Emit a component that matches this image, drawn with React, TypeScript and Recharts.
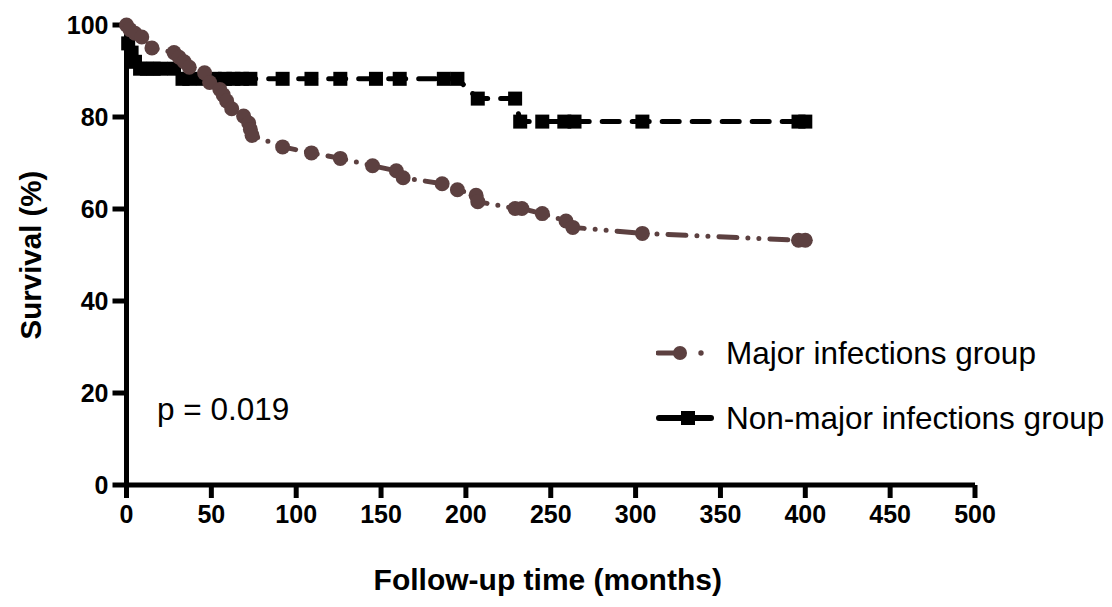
import { LineChart, Line, XAxis, YAxis } from "recharts";

// follow-up time (months) and survival (%)
const majorTime = [
  0, 2, 5, 9, 15, 28, 31, 34, 37, 46, 49, 55, 57, 59, 62, 69, 72, 73, 74,
  92, 109, 126, 145, 159, 163, 186, 195, 206, 207, 229, 233, 245, 259, 263,
  304, 396, 400,
];
const majorSurvival = [
  100, 99, 98.2, 97.4, 95, 94, 93, 92, 90.8, 89.6, 87.5, 86, 84.8, 83.5,
  81.8, 80.2, 78.7, 77.3, 76, 73.5, 72.2, 71, 69.4, 68.3, 66.8, 65.5, 64.2,
  63, 61.6, 60.1, 60.1, 59, 57.4, 56, 54.7, 53.2, 53.2,
];

const nonMajorTime = [
  0, 1, 3, 5, 8, 12, 16, 20, 28, 33, 37, 45, 52, 58, 63, 68, 73, 92, 109,
  126, 147, 161, 187, 195, 207, 229, 232, 245, 258, 264, 304, 396, 400,
];
const nonMajorSurvival = [
  100, 96, 94, 92, 90.5, 90.5, 90.5, 90.5, 90.5, 88.3, 88.3, 88.3, 88.3,
  88.3, 88.3, 88.3, 88.3, 88.3, 88.3, 88.3, 88.3, 88.3, 88.3, 88.3, 84, 84,
  79, 79, 79, 79, 79, 79, 79,
];

const xTicks = [0, 50, 100, 150, 200, 250, 300, 350, 400, 450, 500];
const yTicks = [0, 20, 40, 60, 80, 100];

const majorData = majorTime.map((t, i) => ({ t, s: majorSurvival[i] }));
const nonMajorData = nonMajorTime.map((t, i) => ({ t, s: nonMajorSurvival[i] }));

const BROWN = "#5c4040";
const FONT = '"Liberation Sans", Arial, Helvetica, sans-serif';

const SquareDot = (props: any) => {
  const { cx, cy, index } = props;
  if (cx == null || cy == null || index === 0) return <g key={`sq-${index}`} />;
  return (
    <rect key={`sq-${index}`} x={cx - 7} y={cy - 7} width={14} height={14} fill="#000" />
  );
};

const tickStyle = { fill: "#000", fontSize: 25, fontWeight: "bold", fontFamily: FONT };
const textStyle = { position: "absolute" as const, fontSize: 31.5, lineHeight: "30px", whiteSpace: "nowrap" as const };

export default function App() {
  return (
    <div style={{ position: "relative", width: 1104, height: 599, fontFamily: FONT }}>
      <LineChart
        width={1104}
        height={599}
        margin={{ top: 17, right: 137, bottom: 62, left: 38.5 }}
      >
        <XAxis
          dataKey="t"
          type="number"
          domain={[0, 500]}
          ticks={xTicks}
          interval={0}
          axisLine={{ stroke: "#000", strokeWidth: 5 }}
          tickLine={{ stroke: "#000", strokeWidth: 5 }}
          tickSize={13}
          tickMargin={7}
          tick={tickStyle}
          height={60}
          label={{
            content: (p: any) => (
              <text
                x={p.viewBox.x + p.viewBox.width / 2 - 3}
                y={582}
                textAnchor="middle"
                fontSize={30}
                fontWeight="bold"
                fontFamily={FONT}
                fill="#000"
              >
                Follow-up time (months)
              </text>
            ),
          }}
        />
        <YAxis
          type="number"
          domain={[0, 100]}
          ticks={yTicks}
          interval={0}
          axisLine={{ stroke: "#000", strokeWidth: 5 }}
          tickLine={{ stroke: "#000", strokeWidth: 5 }}
          tickSize={14}
          tickMargin={4}
          tick={tickStyle}
          width={80}
          label={{
            content: (p: any) => {
              const cy = p.viewBox.y + p.viewBox.height / 2;
              return (
                <text
                  x={33}
                  y={cy}
                  transform={`rotate(-90, 33, ${cy})`}
                  textAnchor="middle"
                  fontSize={29.5}
                  fontWeight="bold"
                  fontFamily={FONT}
                  fill="#000"
                >
                  Survival (%)
                </text>
              );
            },
          }}
        />
        <Line
          data={nonMajorData}
          dataKey="s"
          type="linear"
          stroke="#000"
          strokeWidth={5}
          strokeDasharray="17 13"
          strokeLinecap="round"
          dot={SquareDot}
          activeDot={false}
          isAnimationActive={false}
        />
        <Line
          data={majorData}
          dataKey="s"
          type="linear"
          stroke={BROWN}
          strokeWidth={5}
          strokeDasharray="18 11 0 11 0 11"
          strokeLinecap="round"
          dot={{ r: 7.5, fill: BROWN, stroke: "none" }}
          activeDot={false}
          isAnimationActive={false}
        />
      </LineChart>

      {/* p value */}
      <div style={{ ...textStyle, left: 149, top: 386 }}>p = 0.019</div>

      {/* legend */}
      <svg style={{ position: "absolute", left: 648, top: 330 }} width={64} height={100}>
        <line x1={2} y1={15} x2={24} y2={15} stroke={BROWN} strokeWidth={5} strokeLinecap="round" />
        <circle cx={24} cy={15} r={7} fill={BROWN} />
        <circle cx={45} cy={15} r={2.7} fill={BROWN} />
        <line x1={3} y1={80} x2={55} y2={80} stroke="#000" strokeWidth={6} strokeLinecap="round" />
        <rect x={25} y={73} width={14} height={14} fill="#000" />
      </svg>
      <div style={{ ...textStyle, left: 718, top: 330 }}>Major infections group</div>
      <div style={{ ...textStyle, left: 718, top: 395 }}>Non-major infections group</div>
    </div>
  );
}
